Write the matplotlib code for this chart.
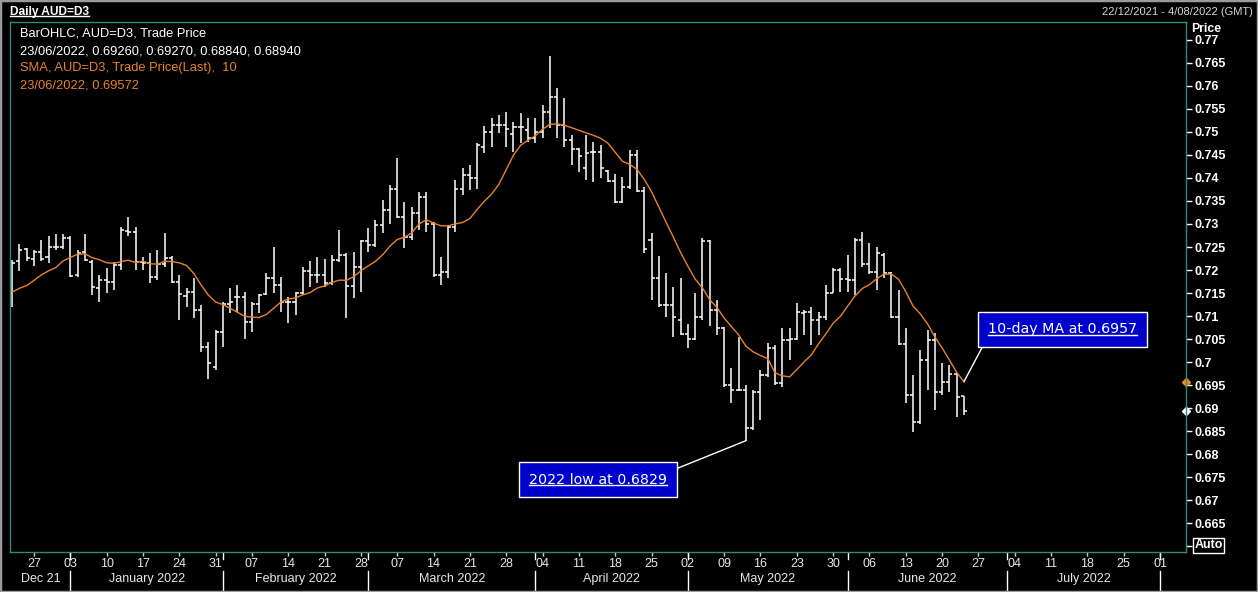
import matplotlib
matplotlib.use("Agg")
import matplotlib.pyplot as plt
import matplotlib.transforms as mtransforms
from matplotlib.lines import Line2D
from matplotlib.patches import Rectangle
from matplotlib.text import Text
import numpy as np
import pandas as pd

W, H = 1258, 592

# daily AUD bars, 22/12/2021 .. 23/06/2022, one per business day
open_ = [
    0.7150, 0.7220, 0.7245, 0.7224, 0.7240, 0.7229, 0.7251, 0.7250, 0.7269, 0.7190,
    0.7240, 0.7218, 0.7160, 0.7179, 0.7175, 0.7211, 0.7284, 0.7282, 0.7218, 0.7215,
    0.7185, 0.7212, 0.7226, 0.7174, 0.7144, 0.7153, 0.7114, 0.7033, 0.6990, 0.7065,
    0.7126, 0.7142, 0.7142, 0.7087, 0.7127, 0.7148, 0.7182, 0.7167, 0.7131, 0.7131,
    0.7149, 0.7198, 0.7189, 0.7189, 0.7171, 0.7222, 0.7232, 0.7165, 0.7207, 0.7262,
    0.7254, 0.7298, 0.7331, 0.7377, 0.7316, 0.7272, 0.7323, 0.7359, 0.7301, 0.7189,
    0.7196, 0.7294, 0.7377, 0.7406, 0.7401, 0.7468, 0.7501, 0.7515, 0.7515, 0.7496,
    0.7510, 0.7505, 0.7486, 0.7501, 0.7544, 0.7577, 0.7515, 0.7483, 0.7462, 0.7421,
    0.7457, 0.7457, 0.7416, 0.7394, 0.7348, 0.7380, 0.7450, 0.7372, 0.7266, 0.7182,
    0.7124, 0.7124, 0.7091, 0.7060, 0.7051, 0.7097, 0.7262, 0.7114, 0.7075, 0.6950,
    0.6940, 0.6940, 0.6856, 0.6935, 0.6972, 0.7030, 0.6954, 0.7048, 0.7051, 0.7106,
    0.7109, 0.7091, 0.7098, 0.7151, 0.7200, 0.7180, 0.7178, 0.7265, 0.7214, 0.7196,
    0.7232, 0.7193, 0.7098, 0.7040, 0.6928, 0.6870, 0.7004, 0.7048, 0.6935, 0.6956,
    0.6974, 0.69260,
]
high = [
    0.7222, 0.7256, 0.7248, 0.7244, 0.7266, 0.7273, 0.7279, 0.7279, 0.7273, 0.7244,
    0.7278, 0.7222, 0.7189, 0.7204, 0.7218, 0.7294, 0.7316, 0.7294, 0.7229, 0.7236,
    0.7244, 0.7280, 0.7230, 0.7189, 0.7160, 0.7182, 0.7124, 0.7044, 0.7069, 0.7131,
    0.7160, 0.7167, 0.7153, 0.7131, 0.7148, 0.7194, 0.7249, 0.7184, 0.7142, 0.7153,
    0.7207, 0.7219, 0.7229, 0.7225, 0.7232, 0.7287, 0.7236, 0.7240, 0.7266, 0.7291,
    0.7309, 0.7352, 0.7385, 0.7443, 0.7348, 0.7338, 0.7370, 0.7370, 0.7305, 0.7229,
    0.7298, 0.7396, 0.7421, 0.7428, 0.7475, 0.7512, 0.7530, 0.7537, 0.7544, 0.7522,
    0.7541, 0.7530, 0.7530, 0.7559, 0.7665, 0.7595, 0.7573, 0.7493, 0.7465, 0.7493,
    0.7479, 0.7472, 0.7418, 0.7408, 0.7403, 0.7461, 0.7461, 0.7381, 0.7280, 0.7230,
    0.7193, 0.7164, 0.7182, 0.7083, 0.7149, 0.7269, 0.7265, 0.7135, 0.7077, 0.6986,
    0.7055, 0.6950, 0.6939, 0.6982, 0.7042, 0.7038, 0.7073, 0.7073, 0.7128, 0.7113,
    0.7119, 0.7109, 0.7167, 0.7204, 0.7204, 0.7233, 0.7269, 0.7283, 0.7258, 0.7251,
    0.7236, 0.7196, 0.7156, 0.7073, 0.6971, 0.7026, 0.7069, 0.7062, 0.6997, 0.6993,
    0.6976, 0.69270,
]
low = [
    0.7120, 0.7197, 0.7219, 0.7208, 0.7219, 0.7215, 0.7244, 0.7245, 0.7184, 0.7184,
    0.7219, 0.7146, 0.7131, 0.7150, 0.7157, 0.7200, 0.7273, 0.7200, 0.7200, 0.7171,
    0.7178, 0.7207, 0.7172, 0.7091, 0.7120, 0.7095, 0.7022, 0.6964, 0.6983, 0.7033,
    0.7106, 0.7109, 0.7051, 0.7066, 0.7106, 0.7145, 0.7149, 0.7109, 0.7084, 0.7102,
    0.7145, 0.7164, 0.7171, 0.7164, 0.7168, 0.7218, 0.7095, 0.7140, 0.7153, 0.7240,
    0.7251, 0.7280, 0.7301, 0.7312, 0.7247, 0.7265, 0.7287, 0.7283, 0.7185, 0.7167,
    0.7182, 0.7283, 0.7363, 0.7374, 0.7377, 0.7454, 0.7468, 0.7497, 0.7468, 0.7457,
    0.7475, 0.7479, 0.7475, 0.7486, 0.7508, 0.7488, 0.7468, 0.7428, 0.7414, 0.7396,
    0.7392, 0.7399, 0.7392, 0.7345, 0.7346, 0.7377, 0.7370, 0.7236, 0.7135, 0.7120,
    0.7098, 0.7055, 0.7059, 0.7030, 0.7048, 0.7092, 0.7078, 0.7059, 0.6946, 0.6910,
    0.6936, 0.6829, 0.6852, 0.6874, 0.6968, 0.6950, 0.6946, 0.7004, 0.7048, 0.7059,
    0.7037, 0.7059, 0.7091, 0.7149, 0.7153, 0.7153, 0.7146, 0.7207, 0.7192, 0.7157,
    0.7182, 0.7095, 0.7036, 0.6910, 0.6848, 0.6866, 0.6939, 0.6895, 0.6928, 0.6935,
    0.6881, 0.68840,
]
close = [
    0.7215, 0.7244, 0.7226, 0.7240, 0.7224, 0.7250, 0.7251, 0.7269, 0.7187, 0.7238,
    0.7222, 0.7163, 0.7179, 0.7175, 0.7211, 0.7287, 0.7282, 0.7218, 0.7215, 0.7184,
    0.7212, 0.7226, 0.7174, 0.7147, 0.7153, 0.7114, 0.7033, 0.6997, 0.7065, 0.7126,
    0.7131, 0.7142, 0.7087, 0.7127, 0.7146, 0.7182, 0.7167, 0.7131, 0.7131, 0.7149,
    0.7198, 0.7189, 0.7189, 0.7171, 0.7222, 0.7232, 0.7165, 0.7207, 0.7262, 0.7254,
    0.7298, 0.7331, 0.7377, 0.7316, 0.7272, 0.7323, 0.7359, 0.7301, 0.7189, 0.7196,
    0.7294, 0.7377, 0.7406, 0.7401, 0.7472, 0.7501, 0.7515, 0.7515, 0.7506, 0.7510,
    0.7510, 0.7486, 0.7501, 0.7544, 0.7577, 0.7515, 0.7483, 0.7462, 0.7448, 0.7455,
    0.7457, 0.7421, 0.7394, 0.7348, 0.7380, 0.7450, 0.7372, 0.7245, 0.7182, 0.7124,
    0.7124, 0.7098, 0.7060, 0.7051, 0.7097, 0.7262, 0.7114, 0.7075, 0.6950, 0.6940,
    0.6940, 0.6856, 0.6935, 0.6972, 0.7030, 0.6954, 0.7048, 0.7051, 0.7109, 0.7109,
    0.7091, 0.7098, 0.7151, 0.7201, 0.7180, 0.7178, 0.7265, 0.7214, 0.7196, 0.7236,
    0.7193, 0.7098, 0.7040, 0.6928, 0.6870, 0.7004, 0.7048, 0.6934, 0.6956, 0.6974,
    0.6924, 0.68940,
]
# closes just before the window (9/12 .. 21/12/2021), only to seed the SMA
seed_close = [0.7160, 0.7166, 0.7128, 0.7107, 0.7160, 0.7180, 0.7124, 0.7114, 0.7164]

ma_period = 10
axis_start, axis_end = "2021-12-22", "2022-08-04"

white = "white"
orange = "#e8822a"
frame_teal = "#2f8a80"

days = pd.bdate_range(axis_start, axis_end)
n = len(close)
x = np.arange(n)
sma = (pd.Series(seed_close + close).rolling(ma_period).mean()
       .iloc[len(seed_close):].to_numpy())


def fx(px):
    return px / W


def fy(py):
    return 1 - py / H


fig = plt.figure(figsize=(W / 100, H / 100), dpi=100, facecolor="black")
ax = fig.add_axes([fx(10), fy(552), fx(1186) - fx(10), fy(22) - fy(552)])
ax.set_facecolor("black")
for sp in ax.spines.values():
    sp.set_color(frame_teal)
    sp.set_linewidth(1.0)

# OHLC bars
tick_w = 0.42
ax.vlines(x, low, high, color=white, lw=1.1)
ax.hlines(open_, x - tick_w, x, color=white, lw=1.1)
ax.hlines(close, x, x + tick_w, color=white, lw=1.1)
ax.plot(x, sma, color=orange, lw=1.0)

ax.set_xlim(-0.3, 161.57)
ax.set_ylim(0.6587, 0.77391)

# price axis on the right
yt = np.round(np.arange(0.660, 0.7701, 0.005), 3)
ax.yaxis.tick_right()
ax.set_yticks(yt)
ax.set_yticklabels(["" if v < 0.6649 else f"{v:.3f}".rstrip("0") for v in yt])
ax.tick_params(axis="y", which="both", direction="out", length=4, width=1,
               color=white, labelcolor=white, labelsize=9, pad=2)
for lab in ax.get_yticklabels():
    lab.set_fontweight("bold")
    lab.set_fontfamily(["Liberation Sans", "DejaVu Sans"])

# date axis: Mondays, month row underneath
mondays = [i for i, d in enumerate(days) if d.weekday() == 0]
ax.set_xticks(mondays)
ax.set_xticklabels([days[i].strftime("%d") for i in mondays])
ax.tick_params(axis="x", direction="out", length=3, width=1, color="#d0d0d0",
               labelcolor="#e8e8e8", labelsize=9, pad=1)
for lab in ax.get_xticklabels():
    lab.set_fontfamily(["Liberation Sans Narrow", "Liberation Sans", "DejaVu Sans"])

trans = mtransforms.blended_transform_factory(ax.transData, ax.transAxes)
month_starts = [i for i in range(len(days)) if i == 0 or days[i].month != days[i - 1].month]
bounds = month_starts + [ax.get_xlim()[1]]
px_per_axes = 552 - 22


def below(py):
    return -(py - 552) / px_per_axes


for k, i0 in enumerate(month_starts):
    if i0 > 0:
        for y0, y1 in ((553, 559), (571, 590)):
            ax.plot([i0, i0], [below(y0), below(y1)], color=white, lw=1,
                    transform=trans, clip_on=False)
    left = max(i0, ax.get_xlim()[0])
    span = bounds[k + 1] - left
    if span < 6:
        continue
    fmt = "%b %y" if span < 15 else "%B %Y"
    ax.text((left + bounds[k + 1]) / 2, below(579), days[i0].strftime(fmt),
            transform=trans, ha="center", va="center", color="#e8e8e8", fontsize=9,
            family=["Liberation Sans Narrow", "Liberation Sans", "DejaVu Sans"])

# last value markers on the price axis
mtrans = mtransforms.blended_transform_factory(ax.transAxes, ax.transData)
ax.plot([1.0], [sma[-1]], marker="D", ms=4, color="#f08a24", transform=mtrans, clip_on=False)
ax.plot([1.0], [close[-1]], marker="D", ms=4, color=white, transform=mtrans, clip_on=False)

# annotations
low_i = int(np.argmin(low))
box = dict(boxstyle="square,pad=0.7", fc="#0000cc", ec=white, lw=1)
ann_low = ax.annotate(f"2022 low at {low[low_i]:.4f}", xy=(low_i, low[low_i]),
                      xytext=(598, H - 479.5), textcoords="figure pixels",
                      ha="center", va="center", color=white, fontsize=10.3, bbox=box,
                      arrowprops=dict(arrowstyle="-", color=white, lw=1,
                                      relpos=(1, 1), shrinkA=0, shrinkB=0))
ann_ma = ax.annotate(f"{ma_period}-day MA at {sma[-1]:.4f}", xy=(n - 1, sma[-1]),
                     xytext=(1062.5, H - 329.5), textcoords="figure pixels",
                     ha="center", va="center", color=white, fontsize=10.3, bbox=box,
                     arrowprops=dict(arrowstyle="-", color=white, lw=1,
                                     relpos=(0, 0), shrinkA=0, shrinkB=0))

# legend block
sans = ["Liberation Sans", "DejaVu Sans"]
last = days[n - 1].strftime("%d/%m/%Y")
legend_lines = [
    ("BarOHLC, AUD=D3, Trade Price", white),
    (f"{last}, {open_[-1]:.5f}, {high[-1]:.5f}, {low[-1]:.5f}, {close[-1]:.5f}", white),
    (f"SMA, AUD=D3, Trade Price(Last),  {ma_period}", orange),
    (f"{last}, {sma[-1]:.5f}", orange),
]
for k, (txt, col) in enumerate(legend_lines):
    fig.text(fx(20), fy(34 + 17 * k), txt, color=col, fontsize=9.3, family=sans,
             ha="left", va="center")

title = fig.text(fx(10), fy(12), "Daily AUD=D3", color=white, fontsize=8.6,
                 fontweight="bold", family=sans, ha="left", va="center")
fig.text(fx(1253), fy(12), f"{days[0]:%d/%m/%Y} - {days[-1].day}/{days[-1]:%m/%Y} (GMT)",
         color="#d8d8d8", fontsize=8, family=sans, ha="right", va="center")
fig.text(fx(1191), fy(29), "Price", color=white, fontsize=8.8, fontweight="bold",
         family=sans, ha="left", va="center")
fig.text(fx(1208.5), fy(545), "Auto", color=white, fontsize=9, fontweight="bold",
         family=sans, ha="center", va="center",
         bbox=dict(boxstyle="square,pad=0.12", fc="black", ec=white, lw=1))

fig.add_artist(Rectangle((0, 0), 1, 1, transform=fig.transFigure, fill=False,
                         ec="#9a9a9a", lw=2.5))

# underline the boxed labels and the title
fig.canvas.draw()
renderer = fig.canvas.get_renderer()
for t in (ann_low, ann_ma, title):
    bb = Text.get_window_extent(t, renderer)
    yline = bb.y0 + 2
    fig.add_artist(Line2D([bb.x0 / W, bb.x1 / W], [yline / H, yline / H],
                          transform=fig.transFigure, color=white, lw=1))

fig.savefig("out.png", dpi=100, facecolor="black")
